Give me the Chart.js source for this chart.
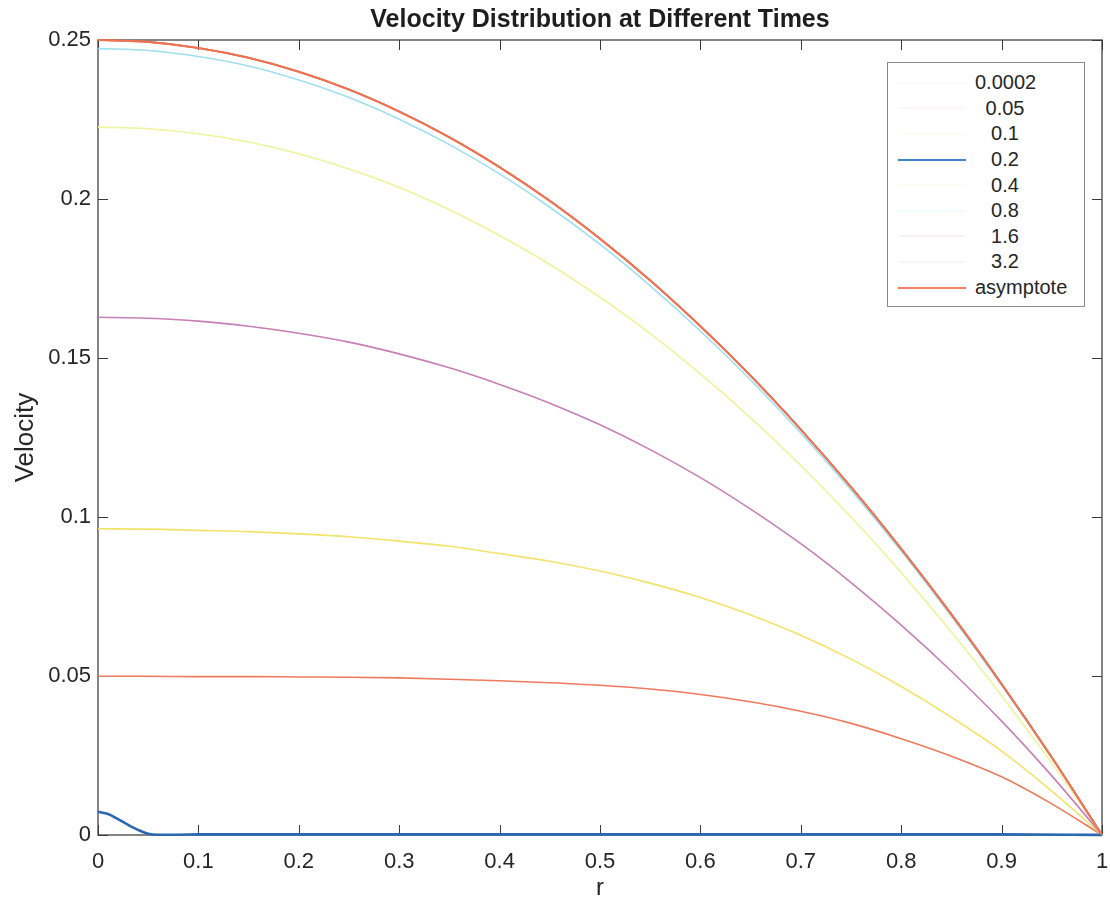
<!DOCTYPE html>
<html><head><meta charset="utf-8">
<script src="https://cdn.jsdelivr.net/npm/chart.js@4.4.1/dist/chart.umd.min.js"></script>
<style>
html,body{margin:0;padding:0;background:#fff;}
#wrap{position:relative;width:1110px;height:907px;}
#legend{position:absolute;left:887px;top:62px;width:198px;height:245px;border:1px solid #8a8a8a;background:#fff;box-sizing:border-box;padding-top:7px;font-family:"Liberation Sans",Arial,sans-serif;font-size:20px;color:#262626;}
.row{height:25.6px;display:flex;align-items:center;}
.sw{width:68px;margin-left:10px;margin-right:9px;height:0;border-top:2px solid;}
.lab{display:inline-block;min-width:60px;text-align:center;white-space:nowrap;}
</style></head>
<body><div id="wrap"><canvas id="c" width="1110" height="907"></canvas><div id="legend"></div></div>
<script>
const TITLE = 'Velocity Distribution at Different Times';
const X_TITLE = 'r';
const Y_TITLE = 'Velocity';

const xTicks = [0,0.1,0.2,0.3,0.4,0.5,0.6,0.7,0.8,0.9,1];
const xTickLabels = ['0','0.1','0.2','0.3','0.4','0.5','0.6','0.7','0.8','0.9','1'];
const yTicks = [0,0.05,0.1,0.15,0.2,0.25];
const yTickLabels = ['0','0.05','0.1','0.15','0.2','0.25'];

const seriesLabels = ['0.0002','0.05','0.1','0.2','0.4','0.8','1.6','3.2','asymptote'];

// radial positions
const r = [0,0.05,0.1,0.15,0.2,0.25,0.3,0.35,0.4,0.45,0.5,0.55,0.6,0.65,0.7,0.75,0.8,0.85,0.9,0.95,1];
const rFine = [0,0.01,0.02,0.03,0.04,0.05,0.06,0.08,0.1,0.2,0.3,0.4,0.5,0.6,0.7,0.8,0.9,0.97,1];

const u0002 = [0.0073,0.0066,0.0050,0.0032,0.0016,0.0004,0.0001,0.0001,0.0002,0.0002,0.0002,0.0002,0.0002,0.0002,0.0002,0.0002,0.0002,0.0001,0];
const u005 = [0.0499,0.0499,0.0498,0.0498,0.0497,0.0496,0.0494,0.0490,0.0485,0.0479,0.0471,0.0459,0.0442,0.0419,0.0389,0.0351,0.0303,0.0248,0.0183,0.0098,0];
const u01  = [0.0963,0.0962,0.0958,0.0954,0.0947,0.0938,0.0924,0.0908,0.0885,0.0861,0.0830,0.0792,0.0747,0.0692,0.0628,0.0553,0.0467,0.0370,0.0264,0.0138,0];
const u02  = [0.1628,0.1625,0.1616,0.1600,0.1578,0.1550,0.1513,0.1469,0.1417,0.1358,0.1290,0.1212,0.1124,0.1025,0.0916,0.0794,0.0660,0.0515,0.0358,0.0186,0];
const u04  = [0.2226,0.2221,0.2205,0.2179,0.2142,0.2094,0.2036,0.1966,0.1885,0.1794,0.1691,0.1577,0.1450,0.1312,0.1162,0.1000,0.0825,0.0638,0.0438,0.0226,0];
const u08  = [0.2473,0.2467,0.2448,0.2418,0.2374,0.2319,0.2251,0.2171,0.2079,0.1974,0.1857,0.1727,0.1585,0.1431,0.1264,0.1085,0.0893,0.0688,0.0471,0.0242,0];
const u16  = [0.25,0.2494,0.2475,0.2444,0.24,0.2344,0.2275,0.2194,0.21,0.1994,0.1875,0.1744,0.16,0.1444,0.1275,0.1094,0.09,0.0694,0.0475,0.0244,0];
const u32  = [0.25,0.2494,0.2475,0.2444,0.24,0.2344,0.2275,0.2194,0.21,0.1994,0.1875,0.1744,0.16,0.1444,0.1275,0.1094,0.09,0.0694,0.0475,0.0244,0];
const uAsym= [0.25,0.2494,0.2475,0.2444,0.24,0.2344,0.2275,0.2194,0.21,0.1994,0.1875,0.1744,0.16,0.1444,0.1275,0.1094,0.09,0.0694,0.0475,0.0244,0];

const lineColors = ['#2a68b4','#ee7b5e','#f3e36c','#c77fb6','#eef39c','#9fdff0','#c8605a','#d36a55','#f07452'];
const lineWidths = [2.6,1.6,1.6,1.6,1.6,1.6,1.6,1.6,2];
// legend swatches as they appear in the reference (most are washed out)
const legendSwatch = ['#f6fbff','#fdf6f2','#fdfcf2','#3d86cf','#fbfdf2','#f2fbfd','#fbf2f2','#fbf5f2','#f4825e'];

const FONT = '"Liberation Sans", Arial, Helvetica, sans-serif';

function pts(xs, ys){ return xs.map((x,i)=>({x:x, y:ys[i]})); }
const seriesData = [pts(rFine,u0002),pts(r,u005),pts(r,u01),pts(r,u02),pts(r,u04),pts(r,u08),pts(r,u16),pts(r,u32),pts(r,uAsym)];

const datasets = seriesLabels.map((lab,i)=>({
  label: lab, data: seriesData[i], borderColor: lineColors[i], backgroundColor: lineColors[i],
  borderWidth: lineWidths[i], pointRadius: 0, fill: false, cubicInterpolationMode: 'monotone',
  order: i===8 ? -1 : (i===0 ? 0 : 10-i), clip: 4
}));

const frame = {
  id: 'frame',
  beforeDatasetsDraw(chart){
    const {ctx, chartArea:a, scales:{x, y}} = chart;
    ctx.save();
    ctx.strokeStyle = '#5c5c5c'; ctx.lineWidth = 1.5;
    ctx.strokeRect(a.left, a.top, a.right-a.left, a.bottom-a.top);
    ctx.strokeStyle = '#3a3a3a'; ctx.lineWidth = 1;
    ctx.beginPath();
    x.ticks.forEach(t=>{ const p = Math.round(x.getPixelForValue(t.value))+0.5;
      ctx.moveTo(p, a.bottom); ctx.lineTo(p, a.bottom-10);
      ctx.moveTo(p, a.top); ctx.lineTo(p, a.top+10); });
    y.ticks.forEach(t=>{ const p = Math.round(y.getPixelForValue(t.value))+0.5;
      ctx.moveTo(a.left, p); ctx.lineTo(a.left+10, p);
      ctx.moveTo(a.right, p); ctx.lineTo(a.right-10, p); });
    ctx.stroke();
    ctx.restore();
  }
};

const chart = new Chart(document.getElementById('c'), {
  type: 'line',
  data: { datasets },
  plugins: [frame],
  options: {
    responsive: false, animation: false, devicePixelRatio: 1,
    layout: { padding: { left: 0, right: 8, top: 0, bottom: 0 } },
    plugins: {
      legend: { display: false },
      tooltip: { enabled: false },
      title: { display: true, fullSize: false, text: TITLE, color: '#1e1e1e',
        font: { family: FONT, size: 25, weight: 'bold' }, padding: { top: 5, bottom: 5 } }
    },
    scales: {
      x: {
        type: 'linear', min: 0, max: 1,
        afterFit(s){ s.height = 72; s.paddingLeft = 0; s.paddingRight = 0; },
        afterBuildTicks(s){ s.ticks = xTicks.map(v=>({value:v})); },
        ticks: { callback: (v,i)=>xTickLabels[i], color: '#262626', font: { family: FONT, size: 22 },
          padding: 14, maxRotation: 0, autoSkip: false },
        grid: { display: false, drawTicks: false },
        border: { display: false },
        title: { display: true, text: X_TITLE, color: '#262626', font: { family: FONT, size: 24 }, padding: { top: 0, bottom: 4 } }
      },
      y: {
        type: 'linear', min: 0, max: 0.25,
        afterFit(s){ s.width = 98; s.paddingTop = 0; s.paddingBottom = 0; },
        afterBuildTicks(s){ s.ticks = yTicks.map(v=>({value:v})); },
        ticks: { callback: (v,i)=>yTickLabels[i], color: '#262626', font: { family: FONT, size: 22 },
          padding: 7, autoSkip: false },
        grid: { display: false, drawTicks: false },
        border: { display: false },
        title: { display: true, text: Y_TITLE, color: '#262626', font: { family: FONT, size: 26 }, padding: { top: 10, bottom: 0 } }
      }
    }
  }
});

// HTML legend built from the datasets
const leg = document.getElementById('legend');
chart.data.datasets.forEach((ds,i)=>{
  const row = document.createElement('div'); row.className = 'row';
  const sw = document.createElement('span'); sw.className = 'sw'; sw.style.borderTopColor = legendSwatch[i];
  const lab = document.createElement('span'); lab.className = 'lab'; lab.textContent = ds.label;
  row.appendChild(sw); row.appendChild(lab); leg.appendChild(row);
});
</script></body></html>
